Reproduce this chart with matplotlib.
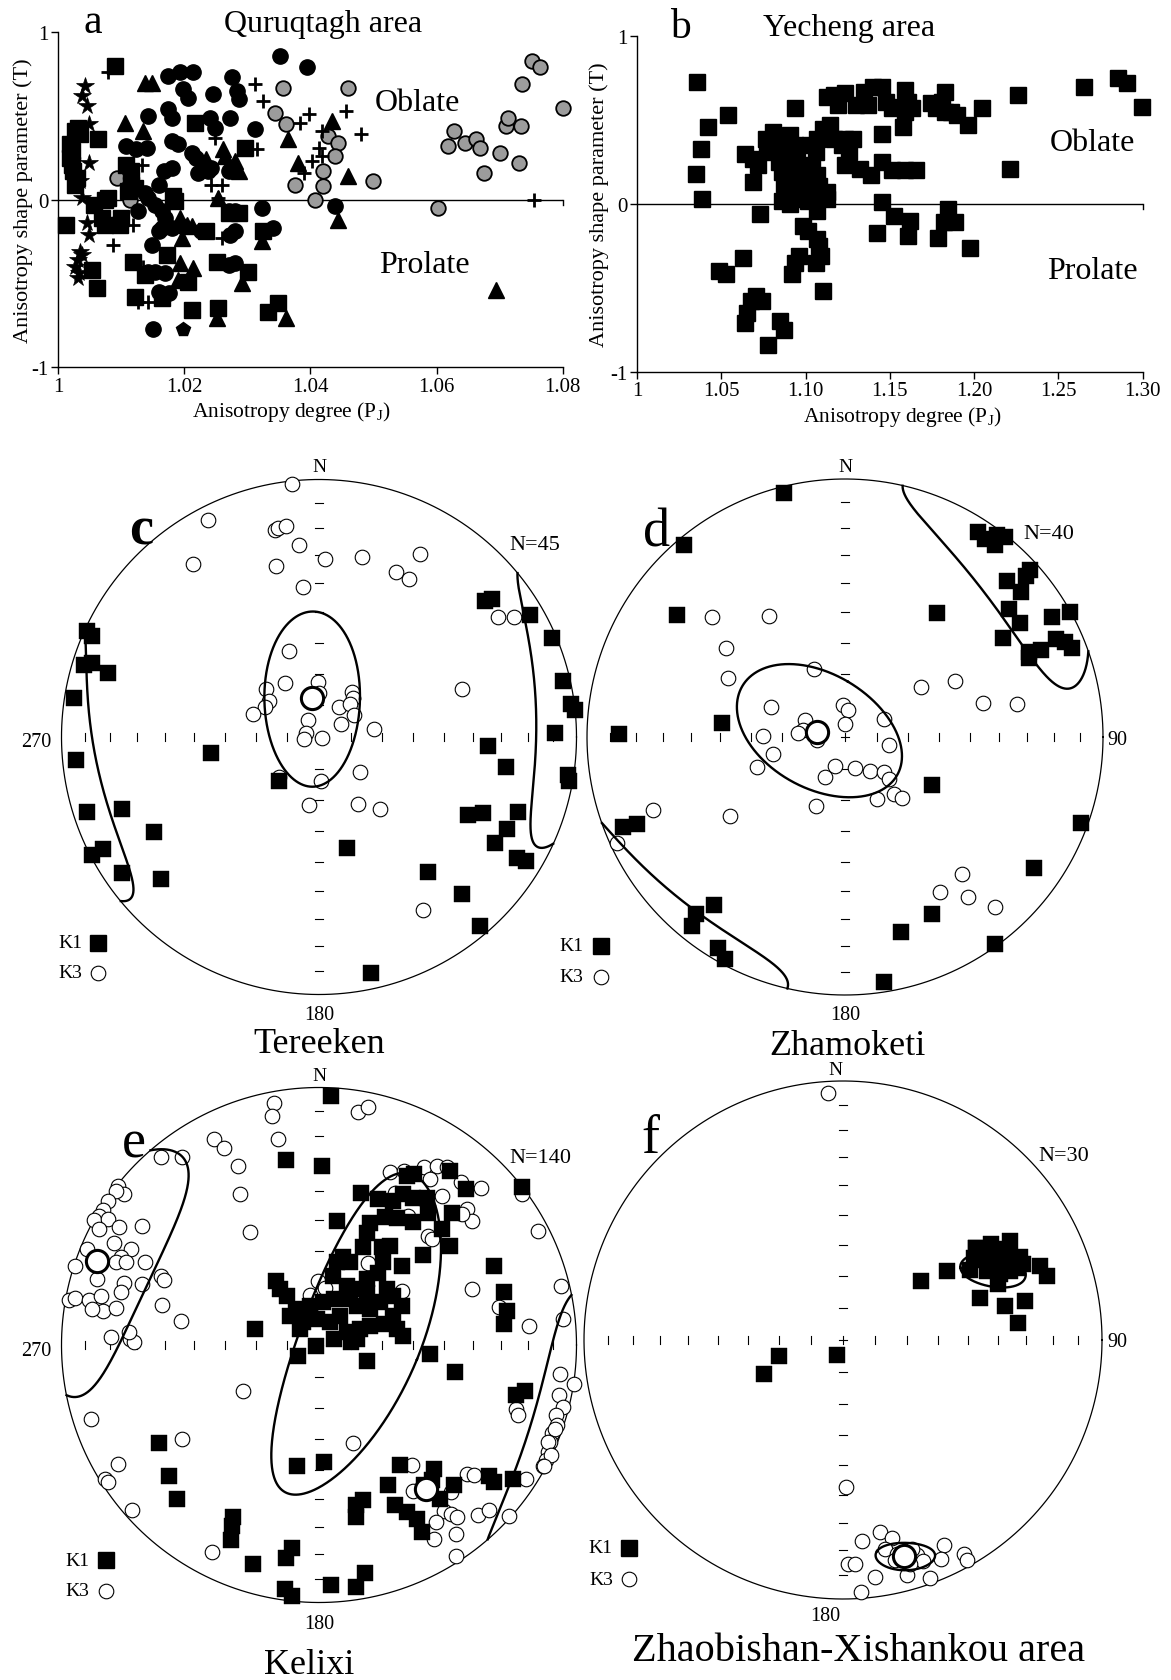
import numpy as np
import matplotlib
matplotlib.use("Agg")
import matplotlib.pyplot as plt

# ---------------- data: panel a (Quruqtagh area), PJ / T ----------------
star_pj = [1.0042, 1.0038, 1.0046, 1.0048, 1.0048, 1.0034, 1.0038, 1.0045, 1.0048, 1.0034, 1.0031, 1.0027, 1.0033, 1.0032, 1.0038]
star_t = [0.68, 0.62, 0.56, 0.45, 0.22, 0.114, 0.01, -0.14, -0.21, -0.31, -0.36, -0.405, -0.44, -0.47, -0.33]

sq_pj = [1.009, 1.0026, 1.0032, 1.0034, 1.0019, 1.0021, 1.0019, 1.0021, 1.0024, 1.0029, 1.0026, 1.0063, 1.0013, 1.0056,
         1.0074, 1.0079, 1.0069, 1.0074, 1.0098, 1.0217, 1.0116, 1.0108, 1.0116, 1.0122, 1.0111, 1.0182, 1.0185, 1.0296,
         1.027, 1.0286, 1.0235, 1.0053, 1.0061, 1.0119, 1.0137, 1.0122, 1.0172, 1.0206, 1.0164, 1.0212, 1.0251, 1.0254,
         1.0301, 1.0333, 1.0349, 1.0325, 1.0100]
sq_t = [0.80, 0.41, 0.43, 0.39, 0.33, 0.29, 0.25, 0.21, 0.17, 0.13, 0.09, 0.36, -0.15, -0.03,
        0.0, 0.01, -0.11, -0.15, -0.15, 0.46, 0.17, 0.21, 0.09, 0.07, 0.05, 0.02, -0.01, 0.31,
        -0.08, -0.08, -0.19, -0.42, -0.53, -0.37, -0.45, -0.58, -0.33, -0.49, -0.59, -0.66, -0.37, -0.65,
        -0.43, -0.67, -0.62, -0.19, -0.11]

tri_pj = [1.0137, 1.0148, 1.0106, 1.0135, 1.0235, 1.0262, 1.028, 1.0264, 1.0286, 1.0193, 1.0204, 1.0212, 1.0196, 1.0193,
          1.0214, 1.0190, 1.0291, 1.0251, 1.0362, 1.0434, 1.0381, 1.0365, 1.0460, 1.0444, 1.0254, 1.0323, 1.0694]
tri_t = [0.70, 0.70, 0.46, 0.41, 0.24, 0.30, 0.23, 0.26, 0.17, -0.11, -0.15, -0.16, -0.23, -0.38,
         -0.41, -0.48, -0.50, -0.71, -0.71, 0.47, 0.22, 0.36, 0.14, -0.12, 0.01, -0.25, -0.54]

plus_pj = [1.0079, 1.0312, 1.0325, 1.0397, 1.0383, 1.0457, 1.048, 1.0418, 1.0413, 1.0402, 1.0389, 1.0418, 1.0315,
           1.0249, 1.0132, 1.0243, 1.0259, 1.0254, 1.0119, 1.0087, 1.0259, 1.0135, 1.0143, 1.0127, 1.0755]
plus_t = [0.76, 0.69, 0.59, 0.51, 0.46, 0.53, 0.39, 0.41, 0.31, 0.23, 0.16, 0.26, 0.30,
          0.37, 0.21, 0.09, 0.09, 0.01, -0.15, -0.27, -0.23, -0.40, -0.61, -0.61, -0.005]

grey_pj = [1.0357, 1.046, 1.0344, 1.0362, 1.0428, 1.0444, 1.0439, 1.0420, 1.0420, 1.0375, 1.05, 1.0407, 1.0093, 1.0114,
           1.0603, 1.0618, 1.0627, 1.0645, 1.0663, 1.0669, 1.0675, 1.0701, 1.071, 1.0713, 1.0734, 1.0731, 1.0736,
           1.0752, 1.0764, 1.08]
grey_t = [0.67, 0.67, 0.52, 0.45, 0.38, 0.34, 0.26, 0.17, 0.08, 0.09, 0.11, 0.0, 0.13, 0.0,
          -0.05, 0.32, 0.41, 0.34, 0.36, 0.31, 0.16, 0.28, 0.44, 0.49, 0.44, 0.22, 0.69,
          0.83, 0.79, 0.55]

circ_pj = [1.0352, 1.0395, 1.0174, 1.0193, 1.0214, 1.0275, 1.0198, 1.0206, 1.0246, 1.0283, 1.0286, 1.0143, 1.0174,
           1.018, 1.0241, 1.0249, 1.0272, 1.0312, 1.018, 1.019, 1.0108, 1.0124, 1.014, 1.0212, 1.0219, 1.0167, 1.018,
           1.0222, 1.0238, 1.0159, 1.0137, 1.0153, 1.0164, 1.0169, 1.0159, 1.0148, 1.027, 1.028, 1.0323, 1.0341,
           1.028, 1.0272, 1.027, 1.028, 1.0143, 1.0153, 1.0169, 1.0159, 1.0175, 1.0151, 1.0439, 1.0164, 1.018,
           1.0196, 1.0127, 1.0143, 1.0243, 1.027, 1.0227]
circ_t = [0.86, 0.79, 0.74, 0.76, 0.76, 0.73, 0.66, 0.61, 0.63, 0.65, 0.60, 0.50, 0.54,
          0.49, 0.49, 0.43, 0.49, 0.42, 0.35, 0.33, 0.32, 0.30, 0.31, 0.28, 0.25, 0.17, 0.19,
          0.16, 0.17, 0.09, 0.04, -0.03, -0.07, -0.11, -0.19, -0.27, -0.07, -0.07, -0.05, -0.17,
          -0.19, -0.21, -0.39, -0.38, -0.43, -0.43, -0.44, -0.55, -0.56, -0.77, -0.04, -0.17, -0.17,
          -0.16, -0.07, 0.01, 0.19, 0.17, -0.19]

pent_pj = [1.0198]
pent_t = [-0.77]

a_xticks = [1.0, 1.02, 1.04, 1.06, 1.08]
a_xlabels = ['1', '1.02', '1.04', '1.06', '1.08']

# ---------------- data: panel b (Yecheng area) ----------------
b_pj = [1.0356, 1.0422, 1.0378, 1.0352, 1.0385, 1.0537, 1.0488, 1.0528, 1.0631, 1.0642, 1.0686, 1.0719, 1.0686, 1.0730,
        1.0763, 1.0807, 1.0774, 1.0785, 1.0829,
        1.0862, 1.0906, 1.0939, 1.0884, 1.0840, 1.0862, 1.0917, 1.0950,
        1.0873, 1.0917,
        1.0862, 1.0906, 1.0939, 1.0972, 1.1016, 1.0983, 1.0928, 1.1038, 1.1082, 1.1126, 1.1126,
        1.0939,
        1.0972, 1.1016, 1.1038, 1.1060, 1.1027, 1.1071, 1.1104, 1.1148,
        1.1071, 1.1082,
        1.1071,
        1.0983, 1.1016,
        1.1071, 1.1082, 1.1093, 1.1060, 1.0961, 1.0939, 1.0917, 1.1104,
        1.0708, 1.0675, 1.0741, 1.0653, 1.0642, 1.0780, 1.0851, 1.0873,
        1.1126, 1.1170, 1.1236, 1.1346, 1.1401, 1.1456, 1.1302, 1.1368, 1.1192, 1.1236, 1.1280, 1.1236, 1.1324,
        1.1390, 1.1258, 1.1214, 1.1170,
        1.1456, 1.1456, 1.1511, 1.1588, 1.1654,
        1.1456, 1.1522, 1.1621, 1.1610, 1.1423,
        1.1588, 1.1610, 1.1588, 1.1632, 1.1577, 1.1544, 1.1478, 1.1511,
        1.1742, 1.1775, 1.1808, 1.1830, 1.1863, 1.1896, 1.1830, 1.1962, 1.2050,
        1.1848, 1.1819, 1.1885, 1.1786, 1.1973,
        1.2215, 1.2259,
        1.2654, 1.2852, 1.2907, 1.2995]
b_t = [0.73, 0.46, 0.33, 0.18, 0.03, 0.53, -0.40, -0.42, -0.32, 0.30, 0.27, 0.23, 0.13, -0.06,
       0.39, 0.43, 0.35, 0.31, 0.32,
       0.39, 0.41, 0.35, 0.29, 0.25, 0.19, 0.23, 0.27,
       0.12, 0.15,
       0.02, 0.0, 0.03, 0.04, 0.02, 0.06, 0.07, 0.07, 0.05, 0.03, 0.07,
       0.57,
       0.19, 0.15, 0.23, 0.31, 0.35, 0.39, 0.45, 0.47,
       0.17, 0.11,
       -0.04,
       -0.13, -0.16,
       -0.21, -0.25, -0.31, -0.35, -0.31, -0.35, -0.42, -0.52,
       -0.55, -0.58, -0.58, -0.65, -0.71, -0.84, -0.70, -0.75,
       0.64, 0.65, 0.66, 0.67, 0.70, 0.70, 0.59, 0.59, 0.59, 0.39, 0.39, 0.23, 0.21,
       0.17, 0.31, 0.35, 0.39,
       0.42, 0.25, 0.20, 0.20, 0.20,
       0.01, -0.07, -0.10, -0.19, -0.17,
       0.68, 0.61, 0.55, 0.57, 0.46, 0.58, 0.61, 0.57,
       0.60, 0.57, 0.61, 0.67, 0.55, 0.53, 0.55, 0.47, 0.57,
       -0.03, -0.11, -0.11, -0.20, -0.26,
       0.21, 0.65,
       0.70, 0.75, 0.72, 0.58]

b_xticks = [1.0, 1.05, 1.10, 1.15, 1.20, 1.25, 1.30]
b_xlabels = ['1', '1.05', '1.10', '1.15', '1.20', '1.25', '1.30']

# ---------------- data: stereonets, (trend, plunge) in degrees ----------------
c_k1 = [(294.5, 1), (294, 4), (287, 5), (288, 8), (287, 15.6), (279, 4), (264.6, 6), (261.5, 55), (252, 6), (250, 19.5),
        (240, 27), (242.6, 6), (242.5, 0.5), (235.5, 7.7), (228, 18.5), (50.7, 18), (51.4, 15.3), (60, 6), (67, 2),
        (77, 3), (82.5, 1.5), (84, 0), (89, 9), (93, 34.7), (99, 27.5), (98.7, 2.5), (100, 1.5), (117.7, 35),
        (115, 30.5), (110.5, 18.5), (116, 20), (121, 21.5), (121.5, 11), (121, 7), (141, 33), (137.7, 18.5),
        (139.7, 4), (166, 53.5), (222, 71.3), (167.6, 7)]
c_k3 = [(354, 1.5), (333, 6), (348, 19), (349, 18.5), (351, 18), (354, 26), (324, 18), (346, 32), (2, 31.5),
        (13.6, 29), (29, 20), (25, 30), (29.6, 30), (354, 41), (56, 17.5), (58.4, 12), (341, 61), (328, 70),
        (312, 67.5), (306, 70.5), (299, 70.5), (289, 68), (359, 72.6), (0, 76), (36, 72.5), (41, 73.7), (34, 78.6),
        (43, 75.6), (58, 77), (327, 83.5), (286, 85.7), (261, 85.2), (104, 89), (59, 82), (82, 72.4), (71.5, 41),
        (130, 73), (178, 76), (225, 72), (188, 68.3), (150, 65.5), (140, 60), (149, 22.7)]
c_mean = [(350, 77.5)]

d_k1 = [(346, 3), (320, 3), (306, 20.4), (276.5, 50.5), (270.7, 13.6), (36.6, 40), (33, 6), (35.3, 6.5), (38, 6),
        (38.6, 1), (37, 2.5), (48, 4), (48.3, 7), (46, 14), (50.5, 12.7), (52, 20.5), (57, 20.3), (58, 28.7), (60, 8),
        (61, 0.5), (65, 10.6), (66.7, 8), (68.5, 6), (66, 18), (65.3, 22.5), (66.8, 23.5), (119, 58.5), (110, 3),
        (124.8, 12), (153.8, 24.5), (164, 22.5), (144, 1), (171, 4.5), (248, 8), (247.4, 13.7), (218, 18.5),
        (220, 11.3), (219, 6.5), (211, 5), (208.5, 2.5)]
d_k3 = [(312, 31.3), (327.7, 44), (307, 42), (297, 48), (335.6, 66.4), (292, 64.6), (293, 76.3), (280, 76.5),
        (275, 75), (263, 81), (271, 64), (257, 66.6), (251.4, 60.6), (357, 80), (6.5, 81.3), (0, 86), (65, 76.4),
        (101, 76), (207, 76), (198, 80.3), (162, 79.7), (143, 76.7), (132, 73.3), (134, 70.8), (153, 67.9),
        (139, 66.2), (137, 63.6), (202.5, 66.4), (235.5, 45.2), (249.2, 21.4), (245, 3), (56.7, 61.2), (63, 50.5),
        (76, 44.2), (79, 32.6), (139.5, 30.7), (148.5, 30.4), (142.4, 22.8), (138.6, 13)]
d_mean = [(281, 81)]

e_k1 = [(350, 27.9), (0.9, 31.2), (15.5, 38.8), (8.4, 49.7), (22.2, 38.8), (27.3, 37.2), (29.3, 33.4), (32.7, 32.6),
        (36.2, 29.8), (27.5, 26.9), (29, 25.1), (37, 16.3), (43.4, 17.8), (45.1, 28), (46.7, 34.8), (39.6, 33.8),
        (37.6, 39.7), (31.4, 41.6), (27.4, 43.5), (22.6, 47.3), (23, 50.8), (24.4, 55.7), (32.8, 52.8), (35.6, 50.9),
        (46.4, 53.3), (49.3, 45.6), (53, 36.3), (37.9, 56.5), (39.3, 60.2), (36, 64.2), (20.6, 61.9), (12.1, 63.1),
        (15.6, 61.1), (11.8, 67.6), (25.2, 69.3), (34.1, 68.6), (42.4, 67.5), (50.5, 62), (56.5, 61.6), (64.7, 60.8),
        (68.5, 64.6), (55, 66.4), (54.7, 70.2), (44, 72.8), (34.2, 72.5), (17.5, 74.7), (5.8, 76.4), (347, 77.3),
        (328, 76.5), (315, 76.9), (326.6, 71.4), (326, 65.5), (325, 68.3), (310, 82.1), (243, 82.6), (252, 89),
        (67.7, 85), (65.6, 80.4), (68.8, 76.1), (69.3, 72.8), (72, 68.5), (78.4, 64.8), (83.7, 63), (108, 74),
        (94.6, 54.4), (101.3, 45.2), (65.6, 26.4), (74.1, 26.3), (79.7, 26.6), (83.6, 28.5), (284, 69), (35.7, 78.6),
        (355, 81.8), (26, 82), (85, 80), (81, 77.9), (343, 80.2), (325, 81.2), (52.2, 0),
        (104.3, 22.2), (102.6, 19.2), (238.4, 28), (228.9, 23.5), (222.8, 19.8), (206.7, 26.2), (205.7, 23),
        (204.4, 18), (196.7, 12.2), (188.8, 17.6), (187.7, 21.7), (188, 5), (186.2, 2.3), (190.3, 50.5),
        (177.6, 52.5), (177.1, 7.5), (166.8, 36.5), (164, 37.6), (167.7, 32.3), (171.2, 5.5), (168.6, 10.7),
        (2.8, 3.5),
        (146, 43), (137.2, 34.8), (153.6, 39.2), (140, 32), (143.3, 32.6), (136.2, 25.4), (141.7, 24.9),
        (154.6, 31.6), (152.3, 27.5), (150.6, 23.5), (151.1, 18), (127.5, 17.8), (128, 14.7), (124.6, 9.4)]
e_k3 = [(348.8, 19.7), (328.5, 47.5), (22.4, 28.3), (25.9, 25.8), (30.5, 21), (33.4, 17.8), (35.8, 16), (33.9, 23.5),
        (39.5, 25.9), (41, 17.3), (45.9, 13.6), (47.5, 23), (51, 24.5), (47.5, 25.7), (45, 39.8), (46.8, 39.7),
        (34.7, 38.9), (26.6, 34.2), (30.9, 59.4), (359, 69.6), (6, 72), (349.6, 74), (56.9, 58.4), (70, 37),
        (78.2, 29.4), (84.7, 19.2), (62.4, 4.6), (53.4, 1.8),
        (349.5, 4.8), (348.4, 10), (9.6, 9), (11.7, 6.3), (333, 11), (334.3, 16.4), (335.6, 24.8), (332.3, 34.3),
        (76.3, 3.6), (83.9, 5.4), (319.9, 5.2), (323.9, 10.6), (238.6, 61.8), (252, 7.5), (235.4, 35.8),
        (239.4, 10), (238, 2.3), (236.9, 2.7), (228.7, 3.6), (207.2, 10.4), (161, 56.8),
        (96.9, 6.5), (98.7, 0), (101.7, 5.3), (104.2, 2.6), (106.5, 4.5), (108.6, 2.6), (110.7, 3.5), (112.7, 3),
        (115, 2), (116.8, 1.2), (118.4, 1.3), (107.9, 20.7), (109.4, 19.3),
        (308.3, 0.5), (307.8, 4.9), (307.2, 1.2), (304.3, 0.8), (302, 1), (300.5, 1.2), (299, 0), (300.8, 5),
        (297.8, 3.7), (300.5, 11), (304, 18.3), (292.5, 3), (296.4, 12.2), (297, 19.2), (293.9, 17), (295.4, 26),
        (288, 0.2), (292.2, 16), (293.2, 19.7), (286.6, 11), (287.8, 21.7), (293.7, 33.6),
        (280.2, 1.7), (281, 4), (281, 9.8), (282.6, 14.4), (279, 16.3), (279, 11.8), (280.2, 21), (284.9, 21.7),
        (272.1, 20.1), (271.7, 27.5), (270.9, 28.9), (273.8, 26.8), (284.4, 37), (280, 44.7), (288.9, 28),
        (292.6, 35),
        (142.2, 40.8), (131, 24.7), (130.1, 22.5), (147.2, 32.9), (138.2, 24.3), (143, 20.6), (142.1, 17.9),
        (141.3, 15.3), (146.7, 18.7), (149.4, 13.4), (144.2, 10.2), (147.1, 2.7), (137, 10.4), (134, 8.8),
        (131.9, 0.8), (123, 4.7), (109.7, 3.2), (113, 3.8), (115.5, 0.4), (118.2, 0.9)]
e_mean = [(290.7, 8.5), (143.3, 31)]

f_k1 = [(56.5, 50.1), (52.8, 58.9), (55.3, 37.4), (58.2, 35.1), (59.4, 31.7), (61.9, 29.1), (65, 25.5), (67.2, 25.4),
        (67.4, 28.1), (60.9, 43.4), (64.3, 38.4), (67.3, 34.7), (67.5, 30.9), (70.3, 36.5), (69.4, 19.7),
        (72.6, 18.6), (72.8, 44), (78, 36.3), (77.9, 28.8), (84.3, 32.6), (62, 33), (60, 38), (64, 31), (58, 40),
        (55.2, 37.7), (59.4, 26.2), (56.9, 32.5), (256, 69.4), (246.9, 62.8), (203, 85)]
f_k3 = [(174.7, 23), (169, 25.6), (166.2, 22.2), (168.6, 19), (165.9, 16), (161, 13.2), (160, 10.3), (164.8, 6.5),
        (159.9, 2.5), (153.9, 12.8), (156, 8.2), (150.5, 5.9), (150.6, 2.7), (172.3, 8.3), (175.8, 2.8),
        (178.6, 14.4), (177, 14.3), (161.8, 16.3), (164, 14), (163.3, 10.6), (166.7, 13.7), (356.6, 4.9),
        (179, 42.5)]
f_mean = [(164.2, 14.5)]

# confidence cones: (mean trend, mean plunge, semi-angle a, semi-angle b, rotation)
c_cones = [(83, 1, 34, 15, 10), (350, 77.5, 15, 28, 10)]
d_cones = [(45, 6, 33, 17, 15), (283, 81.5, 18, 28.4, 16.6)]
e_cones = [(290.7, 8.5, 33, 21.5, 10), (78, 76, 19, 56, -56)]
f_cones = [(65, 36, 11, 5, 115), (164, 14, 8, 5, 36)]

# ---------------- figure ----------------
W, H = 1171, 1681
plt.rcParams['font.family'] = ['Liberation Serif', 'DejaVu Serif']
plt.rcParams['mathtext.fontset'] = 'custom'
plt.rcParams['mathtext.rm'] = 'Liberation Serif'
plt.rcParams['axes.unicode_minus'] = False

fig = plt.figure(figsize=(W / 100, H / 100), dpi=100)


def box(x0, y0, x1, y1):
    # pixel box, origin top-left
    return fig.add_axes([x0 / W, 1 - y1 / H, (x1 - x0) / W, (y1 - y0) / H])


def shape_axes(ax, xmax, xticks, xlabels, ylab_x, xlab_x):
    ax.set_xlim(1, xmax)
    ax.set_ylim(-1, 1)
    for s in ('top', 'right'):
        ax.spines[s].set_visible(False)
    for s in ('left', 'bottom'):
        ax.spines[s].set_linewidth(1.0)
    ax.axhline(0, color='k', lw=1.0, zorder=1)
    ax.plot([xmax, xmax], [0, -0.03], color='k', lw=1.0, clip_on=False)
    ax.set_xticks(xticks)
    ax.set_xticklabels(xlabels)
    ax.set_yticks([-1, 0, 1])
    ax.set_yticklabels(['-1', '0', '1'])
    ax.tick_params(length=5, width=1, labelsize=15, pad=2)
    ax.set_xlabel('Anisotropy degree (P$_\\mathrm{J}$)', fontsize=15.5, va='top')
    ax.xaxis.set_label_coords(xlab_x, -0.095)
    ax.set_ylabel('Anisotropy shape parameter (T)', fontsize=16)
    ax.yaxis.set_label_coords(ylab_x, 0.5)
    ax.patch.set_alpha(0)


# panel a
ax = box(58.3, 33.3, 562.6, 368)
shape_axes(ax, 1.08, a_xticks, a_xlabels, -0.05, 0.463)
kw = dict(ls='none', clip_on=False, mec='k')
ax.plot(grey_pj, grey_t, marker='o', ms=10.5, mfc='#9c9c9c', mew=1.3, **kw)
ax.plot(star_pj, star_t, marker='*', ms=13, mfc='k', mew=0.5, **kw)
ax.plot(sq_pj, sq_t, marker='s', ms=11, mfc='k', **kw)
ax.plot(tri_pj, tri_t, marker='^', ms=11.5, mfc='k', **kw)
ax.plot(circ_pj, circ_t, marker='o', ms=11, mfc='k', **kw)
ax.plot(plus_pj, plus_t, marker='+', ms=10, mew=2.0, **kw)
ax.plot(pent_pj, pent_t, marker='p', ms=10, mfc='k', **kw)
ax.text(1.0055, 1.0, 'a', fontsize=30, ha='center', va='baseline')
ax.text(1.042, 1.01, 'Quruqtagh area', fontsize=23, ha='center', va='baseline')
ax.text(1.057, 0.58, 'Oblate', fontsize=23, ha='center', va='center')
ax.text(1.058, -0.39, 'Prolate', fontsize=23, ha='center', va='center')

# panel b
ax = box(637, 37.3, 1142.6, 372.7)
shape_axes(ax, 1.30, b_xticks, b_xlabels, -0.055, 0.524)
ax.plot(b_pj, b_t, marker='s', ms=12, mfc='k', **kw)
ax.text(1.026, 0.995, 'b', fontsize=30, ha='center', va='baseline')
ax.text(1.126, 1.008, 'Yecheng area', fontsize=23, ha='center', va='baseline')
ax.text(1.27, 0.364, 'Oblate', fontsize=23, ha='center', va='center')
ax.text(1.27, -0.398, 'Prolate', fontsize=23, ha='center', va='center')


# ---------------- stereonet helpers ----------------
def project(pairs):
    tp = np.radians(np.asarray(pairs, dtype=float))
    t, p = tp[:, 0], tp[:, 1]
    x, y, z = np.cos(p) * np.sin(t), np.cos(p) * np.cos(t), np.sin(p)
    k = 1 / np.sqrt(1 + z)
    return x * k, y * k


def cone(trend, plunge, a, b, rot, n=1441):
    t, p, r = np.radians([trend, plunge, rot])
    m = np.array([np.cos(p) * np.sin(t), np.cos(p) * np.cos(t), np.sin(p)])
    u = np.array([np.cos(t), -np.sin(t), 0.0])
    v = np.array([-np.sin(p) * np.sin(t), -np.sin(p) * np.cos(t), np.cos(p)])
    U = np.cos(r) * u + np.sin(r) * v
    V = -np.sin(r) * u + np.cos(r) * v
    s = np.linspace(0, 2 * np.pi, n)
    A, B = np.radians(a), np.radians(b)
    th = A * B / np.hypot(B * np.cos(s), A * np.sin(s))
    d = (np.outer(np.cos(th), m) + np.outer(np.sin(th) * np.cos(s), U)
         + np.outer(np.sin(th) * np.sin(s), V))
    up = d[:, 2] < 0
    d[up] *= -1
    k = 1 / np.sqrt(1 + d[:, 2])
    X, Y = d[:, 0] * k, d[:, 1] * k
    cuts = np.flatnonzero(np.diff(up.astype(int))) + 1
    pieces = np.split(np.arange(n), cuts)
    if len(pieces) > 1 and up[0] == up[-1]:
        pieces[0] = np.concatenate([pieces[-1], pieces[0]])
        pieces = pieces[:-1]
    return [(X[i], Y[i]) for i in pieces]


tick_r = project([(0, pl) for pl in range(10, 90, 10)])[1]


def stereonet(cx, cy, R, k1, k3, means, cones, labels):
    S = 1.35
    ax = box(cx - S * R, cy - S * R, cx + S * R, cy + S * R)
    ax.set_xlim(-S, S)
    ax.set_ylim(-S, S)
    ax.axis('off')
    a = np.linspace(0, 2 * np.pi, 500)
    ax.plot(np.cos(a), np.sin(a), color='k', lw=0.9)
    for r in tick_r:
        for sg in (-1, 1):
            ax.plot([sg * r, sg * r], [-0.016, 0.016], color='k', lw=0.8)
            ax.plot([-0.014, 0.014], [sg * r, sg * r], color='k', lw=0.8)
    ax.plot([-0.016, 0.016], [0, 0], color='k', lw=0.8)
    ax.plot([0, 0], [-0.016, 0.016], color='k', lw=0.8)
    x, y = project(k3)
    ax.plot(x, y, 'o', ms=10.5, mfc='white', mec='k', mew=0.8, clip_on=False)
    x, y = project(k1)
    ax.plot(x, y, 's', ms=11.5, mfc='k', mec='k', mew=0.3, clip_on=False)
    for c in cones:
        for px, py in cone(*c):
            ax.plot(px, py, color='k', lw=1.7)
    x, y = project(means)
    ax.plot(x, y, 'o', ms=16, mfc='white', mec='k', mew=2.2)
    for (tx, ty, s, fs, w) in labels:
        ax.text(tx, ty, s, fontsize=fs, fontweight=w, ha='center', va='center')
    return ax


def legend_items(ax, lx, mx, y1, y2):
    ax.text(lx, y1, 'K1', fontsize=14, ha='center', va='center')
    ax.text(lx, y2, 'K3', fontsize=14, ha='center', va='center')
    ax.plot([mx], [y1], 's', ms=11, mfc='k', mec='k')
    ax.plot([mx], [y2], 'o', ms=10.5, mfc='white', mec='k', mew=0.8)


ax = stereonet(319, 738, 257.5, c_k1, c_k3, c_mean, c_cones,
               [(0, 1.052, 'N', 14, 'normal'), (0, -1.076, '180', 14.5, 'normal'),
                (-1.10, -0.016, '270', 14.5, 'normal'), (-0.69, 0.80, 'c', 39, 'bold'),
                (0.837, 0.746, 'N=45', 16, 'normal'), (0, -1.19, 'Tereeken', 26, 'normal')])
legend_items(ax, -0.967, -0.858, -0.80, -0.915)

ax = stereonet(845, 738, 258, d_k1, d_k3, d_mean, d_cones,
               [(0, 1.05, 'N', 14, 'normal'), (0, -1.074, '180', 14.5, 'normal'),
                (1.054, -0.008, '90', 14.5, 'normal'), (-0.729, 0.795, 'd', 39, 'normal'),
                (0.79, 0.787, 'N=40', 16, 'normal'), (0.01, -1.195, 'Zhamoketi', 26, 'normal')])
legend_items(ax, -1.06, -0.946, -0.81, -0.93)

ax = stereonet(319, 1346, 257.5, e_k1, e_k3, e_mean, e_cones,
               [(0, 1.045, 'N', 14, 'normal'), (0, -1.083, '180', 14.5, 'normal'),
                (-1.10, -0.02, '270', 14.5, 'normal'), (-0.72, 0.784, 'e', 39, 'normal'),
                (0.858, 0.728, 'N=140', 16, 'normal'), (-0.04, -1.24, 'Kelixi', 26, 'normal')])
legend_items(ax, -0.938, -0.827, -0.835, -0.955)

ax = stereonet(843, 1341, 259, f_k1, f_k3, f_mean, f_cones,
               [(-0.029, 1.044, 'N', 14, 'normal'), (-0.07, -1.062, '180', 14.5, 'normal'),
                (1.058, -0.006, '90', 14.5, 'normal'), (-0.745, 0.776, 'f', 39, 'normal'),
                (0.853, 0.712, 'N=30', 16, 'normal'),
                (0.062, -1.2, 'Zhaobishan-Xishankou area', 29, 'normal')])
legend_items(ax, -0.935, -0.826, -0.803, -0.923)

fig.savefig('out.png', dpi=100)
